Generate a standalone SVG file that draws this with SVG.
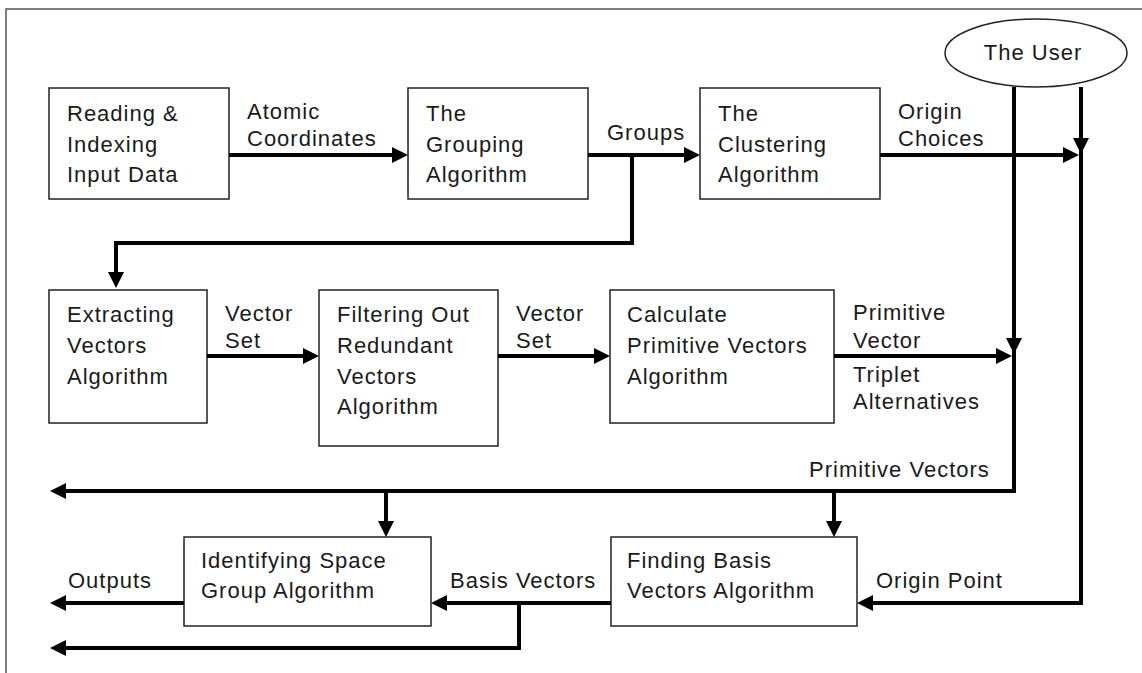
<svg xmlns="http://www.w3.org/2000/svg" width="1142" height="673" viewBox="0 0 1142 673">
<style>
.frame{fill:none;stroke:#555;stroke-width:1.5}
.box{fill:#fff;stroke:#222;stroke-width:1.5}
.lbl{font-family:"Liberation Sans",Arial,sans-serif;font-size:22px;letter-spacing:1px;fill:#1a1a1a}
.wire{fill:none;stroke:#000;stroke-width:4}
.ah{fill:#000}
</style>
<defs>
<path id="ah" class="ah" d="M0,0 L-16,-8 L-16,8 Z"/>
</defs>
<rect width="1142" height="673" fill="#fff"/>
<path class="frame" d="M6,673 V9 H1142"/>

<g id="reading">
<rect class="box" x="49" y="88" width="180" height="111"/>
<text class="lbl" x="67" y="121">Reading &amp;</text>
<text class="lbl" x="67" y="152">Indexing</text>
<text class="lbl" x="67" y="182">Input Data</text>
</g>
<g id="grouping">
<rect class="box" x="408" y="88" width="180" height="111"/>
<text class="lbl" x="426" y="121">The</text>
<text class="lbl" x="426" y="152">Grouping</text>
<text class="lbl" x="426" y="182">Algorithm</text>
</g>
<g id="clustering">
<rect class="box" x="700" y="88" width="180" height="111"/>
<text class="lbl" x="718" y="121">The</text>
<text class="lbl" x="718" y="152">Clustering</text>
<text class="lbl" x="718" y="182">Algorithm</text>
</g>
<g id="user">
<ellipse class="box" cx="1036" cy="53" rx="91" ry="34"/>
<text class="lbl" x="1033" y="60" text-anchor="middle">The User</text>
</g>
<g id="extracting">
<rect class="box" x="49" y="290" width="158" height="133"/>
<text class="lbl" x="67" y="322">Extracting</text>
<text class="lbl" x="67" y="353">Vectors</text>
<text class="lbl" x="67" y="384">Algorithm</text>
</g>
<g id="filtering">
<rect class="box" x="319" y="290" width="179" height="156"/>
<text class="lbl" x="337" y="322">Filtering Out</text>
<text class="lbl" x="337" y="353">Redundant</text>
<text class="lbl" x="337" y="384">Vectors</text>
<text class="lbl" x="337" y="414">Algorithm</text>
</g>
<g id="calculate">
<rect class="box" x="610" y="290" width="224" height="133"/>
<text class="lbl" x="627" y="322">Calculate</text>
<text class="lbl" x="627" y="353">Primitive Vectors</text>
<text class="lbl" x="627" y="384">Algorithm</text>
</g>
<g id="identifying">
<rect class="box" x="184" y="537" width="247" height="89"/>
<text class="lbl" x="201" y="568">Identifying Space</text>
<text class="lbl" x="201" y="598">Group Algorithm</text>
</g>
<g id="finding">
<rect class="box" x="611" y="537" width="246" height="89"/>
<text class="lbl" x="627" y="568">Finding Basis</text>
<text class="lbl" x="627" y="598">Vectors Algorithm</text>
</g>

<g id="connectors">
<path class="wire" d="M229,155 H400"/>
<path class="wire" d="M588,155 H692"/>
<path class="wire" d="M632,155 V243 H116 V280"/>
<path class="wire" d="M880,155 H1072"/>
<path class="wire" d="M1081,87 V603 H865"/>
<path class="wire" d="M1014,87 V491 H58"/>
<path class="wire" d="M834,356 H1004"/>
<path class="wire" d="M207,356 H311"/>
<path class="wire" d="M498,356 H602"/>
<path class="wire" d="M386,491 V529"/>
<path class="wire" d="M834,491 V529"/>
<path class="wire" d="M611,603 H439"/>
<path class="wire" d="M519,603 V648 H58"/>
<path class="wire" d="M184,603 H58"/>

<use href="#ah" transform="translate(408,155)"/>
<use href="#ah" transform="translate(700,155)"/>
<use href="#ah" transform="translate(116,288) rotate(90)"/>
<use href="#ah" transform="translate(1079,155)"/>
<use href="#ah" transform="translate(1081,154) rotate(90)"/>
<use href="#ah" transform="translate(857,603) rotate(180)"/>
<use href="#ah" transform="translate(1014,354) rotate(90)"/>
<use href="#ah" transform="translate(1012,356)"/>
<use href="#ah" transform="translate(50,491) rotate(180)"/>
<use href="#ah" transform="translate(319,356)"/>
<use href="#ah" transform="translate(610,356)"/>
<use href="#ah" transform="translate(386,537) rotate(90)"/>
<use href="#ah" transform="translate(834,537) rotate(90)"/>
<use href="#ah" transform="translate(431,603) rotate(180)"/>
<use href="#ah" transform="translate(50,648) rotate(180)"/>
<use href="#ah" transform="translate(50,603) rotate(180)"/>

<text class="lbl" x="247" y="119">Atomic</text>
<text class="lbl" x="247" y="146">Coordinates</text>
<text class="lbl" x="607" y="140">Groups</text>
<text class="lbl" x="898" y="119">Origin</text>
<text class="lbl" x="898" y="146">Choices</text>
<text class="lbl" x="225" y="321">Vector</text>
<text class="lbl" x="225" y="348">Set</text>
<text class="lbl" x="516" y="321">Vector</text>
<text class="lbl" x="516" y="348">Set</text>
<text class="lbl" x="853" y="320">Primitive</text>
<text class="lbl" x="853" y="348">Vector</text>
<text class="lbl" x="853" y="382">Triplet</text>
<text class="lbl" x="853" y="409">Alternatives</text>
<text class="lbl" x="809" y="477">Primitive Vectors</text>
<text class="lbl" x="68" y="588">Outputs</text>
<text class="lbl" x="450" y="588">Basis Vectors</text>
<text class="lbl" x="876" y="588">Origin Point</text>
</g>
</svg>
